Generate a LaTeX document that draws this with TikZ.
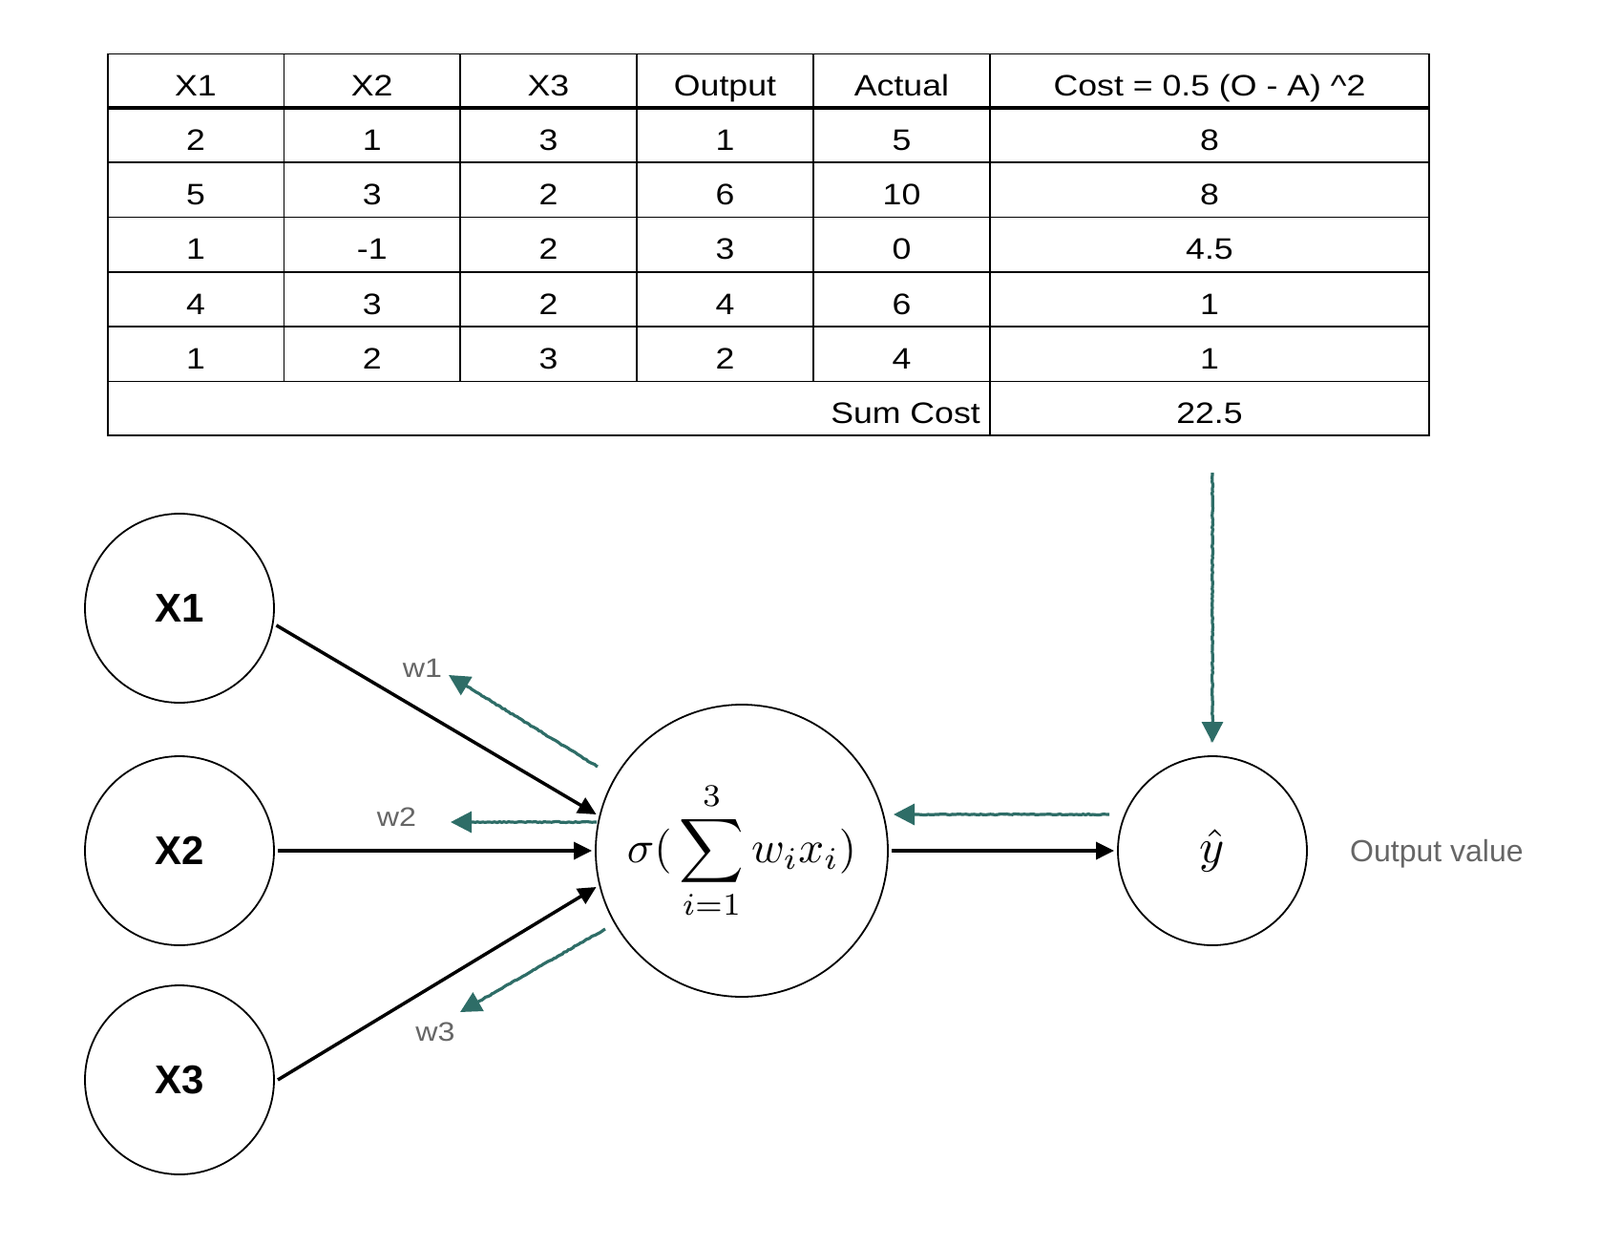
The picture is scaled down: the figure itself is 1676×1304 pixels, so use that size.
\documentclass[tikz,border=0pt]{standalone}
\usepackage[no-math]{fontspec}
\setmainfont{Liberation Sans}
\newfontfamily\tabfont[FakeStretch=1.15]{Liberation Sans}
\usetikzlibrary{arrows.meta,decorations.pathmorphing}
\definecolor{backteal}{HTML}{2E6D67}
\definecolor{lblgray}{HTML}{666666}
\begin{document}
\begin{tikzpicture}[x=1pt,y=-1pt,
  gridline/.style={line width=1.4pt},
  headline/.style={line width=3.5pt},
  cell/.style={anchor=base,inner sep=0pt,font=\tabfont\fontsize{31}{36}\selectfont},
  neuron/.style={circle,draw,line width=1.8pt,inner sep=0pt,outer sep=4pt},
  inlabel/.style={font=\bfseries\fontsize{42}{48}\selectfont},
  fwd/.style={line width=3.5pt,-{Triangle[length=19pt,width=18pt]}},
  back/.style={draw=backteal,line width=3.2pt,-{Triangle[length=22pt,width=22pt]},
    decorate,decoration={random steps,segment length=2.5pt,amplitude=0.5pt,pre length=2pt,post length=24pt}},
  wlabel/.style={text=lblgray,font=\tabfont\fontsize{28}{33}\selectfont,anchor=base,inner sep=0pt}
]
\useasboundingbox (0,0) rectangle (1676,1304);

% ---------- table ----------
\draw[gridline] (113,56.5) rectangle (1497,456);
\foreach \yy in {170,227.5,285,342,399.5}
  \draw[gridline] (113,\yy) -- (1497,\yy);
\draw[headline] (113,113) -- (1497,113);
\foreach \xx in {297.5,482,667,852}
  \draw[gridline] (\xx,56.5) -- (\xx,399.5);
\draw[gridline] (1037,56.5) -- (1037,456);

\node[cell] (h1) at (205,100.5) {X1};
\node[cell] (h2) at (389.75,100.5) {X2};
\node[cell] (h3) at (574.5,100.5) {X3};
\node[cell] (h4) at (759.5,100.5) {Output};
\node[cell] (h5) at (944.5,100.5) {Actual};
\node[cell] (h6) at (1267,100.5) {Cost = 0.5 (O - A) \textasciicircum{}2};

\foreach \r/\yy/\a/\b/\c/\d/\e/\f in {1/157/2/1/3/1/5/8,2/214/5/3/2/6/10/8,3/271.5/1/-1/2/3/0/4.5,4/329/4/3/2/4/6/1,5/386/1/2/3/2/4/1}{
  \node[cell] (r\r-1) at (205,\yy) {\a};
  \node[cell] (r\r-2) at (389.75,\yy) {\b};
  \node[cell] (r\r-3) at (574.5,\yy) {\c};
  \node[cell] (r\r-4) at (759.5,\yy) {\d};
  \node[cell] (r\r-5) at (944.5,\yy) {\e};
  \node[cell] (r\r-6) at (1267,\yy) {\f};
}
\node[cell,anchor=base east] (sumlbl) at (1027,443.5) {Sum Cost};
\node[cell] (sumval) at (1267,443.5) {22.5};

% ---------- network ----------
\node[neuron,minimum size=198pt,inlabel] (x1) at (188,637) {X1};
\node[neuron,minimum size=198pt,inlabel] (x2) at (188,891) {X2};
\node[neuron,minimum size=198pt,inlabel] (x3) at (188,1131) {X3};
\node[neuron,minimum size=306pt] (b) at (777,891)
  {\scalebox{4.7}{$\displaystyle \sigma(\,\sum_{i=1}^{3} w_i x_i)$}};
\node[neuron,minimum size=198pt] (yhat) at (1270,891)
  {\raisebox{-7pt}{\scalebox{5}{$\hat{y}$}}};
\node[text=lblgray,font=\fontsize{32}{37}\selectfont,anchor=base west,inner sep=0pt]
  (outlbl) at (1414,902) {Output value};

\draw[fwd] (x1.-10.5) -- (b.166.6);
\draw[fwd] (x2) -- (b);
\draw[fwd] (x3.0) -- (b.194.1);
\draw[fwd] (b) -- (yhat);

% backward (teal) arrows
\coordinate (g1s) at (626,803);  \coordinate (g1e) at (470,707);
\coordinate (g2s) at (625,861);  \coordinate (g2e) at (472,861);
\coordinate (g3s) at (634,973);  \coordinate (g3e) at (482,1060);
\coordinate (gys) at (1162,853); \coordinate (gye) at (936,853);
\coordinate (gvs) at (1270,495);
\draw[back] (g1s) -- (g1e);
\draw[back] (g2s) -- (g2e);
\draw[back] (g3s) -- (g3e);
\draw[back] (gys) -- (gye);
\draw[back,shorten >=10pt] (gvs) -- (yhat.north);

\node[wlabel] (w1) at (442.5,709) {w1};
\node[wlabel] (w2) at (415.5,865) {w2};
\node[wlabel] (w3) at (456,1090) {w3};
\end{tikzpicture}
\end{document}
